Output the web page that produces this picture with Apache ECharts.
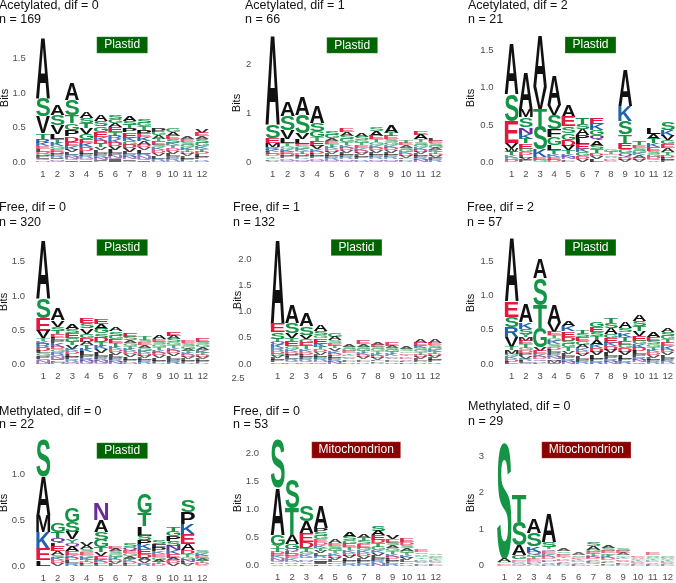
<!DOCTYPE html>
<html><head><meta charset="utf-8">
<script src="https://cdn.jsdelivr.net/npm/echarts@6/dist/echarts.min.js"></script>
<style>html,body{margin:0;padding:0;background:#fff}#c{width:676px;height:583px}</style>
</head><body><div id="c"></div>
<script>
// ---------- DATA ----------
const positions = ['1','2','3','4','5','6','7','8','9','10','11','12'];
const titles = ['Acetylated, dif = 0','Acetylated, dif = 1','Acetylated, dif = 2',
                'Free, dif = 0','Free, dif = 1','Free, dif = 2',
                'Methylated, dif = 0','Free, dif = 0','Methylated, dif = 0'];
const nCounts = [169, 66, 21, 320, 132, 57, 22, 53, 29];
const compartments = ['Plastid','Plastid','Plastid','Plastid','Plastid','Plastid','Plastid','Mitochondrion','Mitochondrion'];
const yTicks = [[0,0.5,1,1.5],[0,1,2],[0,0.5,1,1.5],[0,0.5,1,1.5],[0,0.5,1,1.5,2],[0,0.5,1,1.5],[0,0.5,1],[0,0.5,1,1.5,2],[0,1,2,3]];

// each column: [letters top->bottom, bit heights]
const acet0 = [
 ["ASVTRKELDGPIQN",[.89,.27,.24,.08,.06,.05,.04,.04,.03,.03,.03,.02,.02,.02]],
 ["ASVLTKGEDPRINQ",[.14,.15,.13,.07,.05,.05,.04,.04,.03,.03,.03,.02,.02,.02]],
 ["ASTGPDEKVLRNQI",[.24,.22,.12,.10,.09,.08,.06,.05,.04,.04,.03,.03,.02,.02]],
 ["ASTVGEKDLPRNQI",[.10,.07,.07,.09,.07,.06,.06,.05,.04,.03,.03,.02,.02,.02]],
 ["ASGEKDTVLPRNIF",[.09,.07,.08,.08,.05,.05,.05,.04,.04,.04,.03,.03,.02,.01]],
 ["SGAETRKDVLPNQI",[.06,.06,.06,.07,.05,.05,.05,.05,.05,.05,.04,.03,.03,.03]],
 ["ASTPEKGDVLRNIQ",[.08,.06,.05,.06,.08,.05,.05,.05,.05,.04,.04,.03,.02,.02]],
 ["SGTPEKADVLRNQI",[.06,.05,.05,.06,.05,.06,.05,.04,.04,.05,.04,.03,.03,.02]],
 ["PGATESKDVLRN",[.05,.05,.05,.04,.05,.04,.04,.04,.04,.04,.03,.02]],
 ["GAESKTDVLPRN",[.05,.06,.05,.05,.04,.04,.04,.04,.04,.03,.03,.02]],
 ["AESGKTDVLPR",[.04,.04,.04,.04,.04,.03,.03,.03,.03,.03,.02]],
 ["VEASGKTDLPRN",[.05,.05,.04,.05,.05,.04,.04,.04,.04,.03,.02,.02]]
];
const acet1 = [
 ["ASEMRKLDTGPV",[1.82,.27,.10,.08,.06,.05,.04,.04,.03,.03,.03,.03]],
 ["ASVLTGKEDPRNQ",[.30,.29,.17,.09,.06,.05,.06,.05,.04,.04,.03,.03,.02]],
 ["ASVLEGKTDPRNQ",[.36,.37,.13,.09,.05,.05,.05,.05,.04,.04,.03,.03,.03]],
 ["ASGTEVKDLPRNQ",[.35,.16,.13,.07,.10,.07,.05,.05,.04,.04,.03,.03,.02]],
 ["SGAETKDVLPRNQ",[.08,.08,.06,.06,.05,.05,.05,.04,.04,.04,.04,.03,.02]],
 ["EASGTKDVLPRNQ",[.08,.08,.07,.07,.06,.05,.05,.05,.05,.04,.04,.03,.03]],
 ["ASGTEKDVLPRN",[.08,.07,.06,.05,.06,.05,.05,.04,.04,.04,.03,.03]],
 ["SAETGKDVLPRNQ",[.07,.09,.08,.06,.06,.05,.05,.05,.05,.04,.04,.03,.03]],
 ["ATESGKDVLPRNQ",[.16,.07,.07,.06,.06,.05,.05,.05,.05,.04,.04,.03,.03]],
 ["TEASGKDVLPR",[.06,.05,.05,.04,.04,.04,.04,.04,.03,.03,.03]],
 ["EATSGKDVLPRN",[.08,.10,.06,.05,.05,.05,.05,.04,.04,.04,.04,.04]],
 ["LESGAKTDVPR",[.06,.05,.05,.05,.04,.04,.04,.04,.04,.04,.04]]
];
const acet2 = [
 ["ASEVWTKGD",[.68,.36,.29,.07,.05,.05,.03,.03,.03]],
 ["AMSNKTEGDLVP",[.49,.11,.13,.09,.07,.06,.07,.05,.04,.03,.03,.03]],
 ["AVTSKEG",[.70,.31,.22,.31,.10,.04,.03]],
 ["AVSFGLTKED",[.40,.13,.20,.10,.11,.07,.05,.04,.04,.03]],
 ["AESGDVTKNLP",[.16,.13,.09,.09,.08,.06,.05,.04,.03,.02,.02]],
 ["TSAPLEKGDV",[.08,.07,.08,.06,.06,.06,.05,.05,.04,.04]],
 ["EKGQASTDVL",[.08,.08,.07,.07,.07,.05,.05,.04,.04,.04]],
 ["GTESAKDV",[.03,.03,.02,.02,.02,.02,.02,.01]],
 ["AKSTEGQDV",[.48,.20,.18,.11,.09,.05,.05,.04,.03]],
 ["TESGKADV",[.05,.04,.04,.03,.03,.03,.03,.03]],
 ["LATKESGDQV",[.08,.07,.06,.05,.05,.04,.04,.03,.02,.02]],
 ["SKVGEATDLP",[.10,.08,.06,.05,.05,.05,.04,.04,.03,.03]]
];
const free0 = [
 ["ASEVTKRDLGPQNM",[.85,.29,.18,.11,.04,.04,.05,.05,.04,.04,.04,.03,.03,.02]],
 ["AVSTELPKDGRQNIFMH",[.17,.10,.06,.05,.05,.04,.04,.05,.04,.04,.04,.03,.03,.02,.02,.02,.02]],
 ["ASEGTVKDLPRQN",[.08,.06,.07,.06,.05,.05,.04,.04,.04,.04,.03,.02,.02]],
 ["ESVGDATKLPRNQ",[.08,.07,.08,.06,.06,.05,.05,.05,.05,.04,.04,.03,.02]],
 ["EAGSDTKVLPRNQ",[.08,.07,.07,.06,.07,.05,.05,.05,.05,.04,.03,.03,.02]],
 ["ASGETKDVLPRN",[.06,.06,.05,.06,.05,.04,.04,.04,.04,.04,.03,.03]],
 ["ESAGTKDVLPRN",[.06,.05,.04,.04,.04,.04,.04,.04,.04,.03,.02,.02]],
 ["TSEAGKDVLPR",[.05,.04,.04,.04,.04,.04,.04,.03,.03,.03,.03]],
 ["AESGTKDVLPR",[.06,.04,.04,.04,.04,.04,.04,.04,.04,.03,.02]],
 ["EASGTKDVLPR",[.06,.05,.05,.04,.04,.04,.04,.04,.04,.04,.04]],
 ["ESGATKDVLPR",[.04,.04,.04,.03,.03,.03,.03,.03,.03,.03,.02]],
 ["ESGAKTDVLPR",[.05,.04,.04,.04,.04,.03,.03,.03,.03,.03,.02]]
];
const free1 = [
 ["AESTQKRDGVLPN",[1.62,.16,.13,.06,.06,.06,.05,.05,.05,.04,.04,.04,.03]],
 ["ASVTEGKDPLRQN",[.35,.19,.10,.06,.09,.06,.05,.05,.04,.04,.04,.03,.03]],
 ["ASVGETKDLPRQN",[.25,.16,.08,.07,.07,.06,.05,.05,.04,.04,.04,.03,.03]],
 ["ASGEKTDVLPRNQ",[.12,.08,.06,.10,.06,.05,.05,.05,.04,.04,.04,.03,.03]],
 ["GASETVKDLPRN",[.07,.07,.05,.05,.05,.05,.05,.04,.04,.04,.04,.04]],
 ["ASGETKDVLPR",[.05,.04,.04,.04,.03,.03,.03,.03,.03,.03,.03]],
 ["EASGTKDVLPR",[.06,.05,.04,.04,.04,.04,.04,.04,.03,.03,.03]],
 ["AESGTKDVLPR",[.05,.05,.04,.04,.04,.04,.04,.04,.03,.03,.02]],
 ["EASGTKDVLPR",[.06,.04,.04,.04,.04,.04,.03,.03,.03,.03,.03]],
 ["ASGETKDVLP",[.05,.04,.03,.03,.03,.03,.03,.03,.03,.03]],
 ["AEKSGTDVLPR",[.06,.06,.05,.04,.04,.04,.04,.04,.04,.03,.03]],
 ["AESGKTDVLPR",[.06,.05,.05,.04,.04,.04,.04,.04,.04,.04,.03]]
];
const free2 = [
 ["AESRVTMGKDL",[.92,.22,.15,.15,.14,.05,.05,.04,.04,.04,.03]],
 ["AKSYMETGDPVRLQ",[.27,.10,.07,.05,.05,.05,.05,.04,.04,.04,.04,.03,.03,.02]],
 ["ASTGVEKDQRL",[.29,.39,.34,.28,.05,.05,.04,.03,.03,.02,.02]],
 ["AVETGKSDLPRNQMI",[.27,.12,.05,.04,.04,.05,.04,.04,.04,.04,.03,.03,.03,.03,.01]],
 ["AKEDSGTVLPRN",[.07,.07,.08,.06,.05,.05,.05,.04,.04,.04,.04,.03]],
 ["TSEGAKDVLPR",[.06,.05,.06,.05,.05,.04,.04,.04,.04,.04,.03]],
 ["GESTAKDVLPR",[.08,.07,.06,.06,.07,.05,.05,.05,.05,.04,.04]],
 ["TSAGEKDVLPRN",[.08,.07,.09,.06,.07,.05,.05,.05,.05,.04,.04,.03]],
 ["ASKTEGDVLPR",[.10,.06,.06,.06,.06,.05,.05,.05,.05,.04,.04]],
 ["ASTVEGKDLPRNQ",[.09,.07,.07,.07,.07,.05,.05,.05,.05,.04,.04,.03,.03]],
 ["AESGTKDVLPR",[.07,.06,.05,.04,.04,.04,.04,.04,.03,.03,.03]],
 ["ASGTEKDVLPRN",[.06,.06,.05,.05,.05,.05,.04,.04,.04,.04,.03,.02]]
];
const meth0P = [
 ["SAMKEL",[.40,.42,.18,.18,.13,.06]],
 ["GTQLEASKDV",[.10,.07,.05,.04,.05,.04,.03,.03,.03,.03]],
 ["GSVYQAEKDLR",[.15,.11,.08,.04,.04,.05,.04,.03,.03,.03,.03]],
 ["VASEGKTDL",[.04,.04,.03,.03,.03,.03,.02,.02,.02]],
 ["NASGTVEKDL",[.18,.13,.09,.08,.05,.04,.04,.03,.02,.02]],
 ["EASGTKDVL",[.03,.03,.03,.03,.02,.02,.02,.02,.02]],
 ["SQEGATKDL",[.04,.04,.03,.03,.03,.02,.02,.02,.02]],
 ["GTLSPKEDAVR",[.22,.14,.10,.05,.05,.05,.05,.04,.03,.03,.03]],
 ["SFPKEGATD",[.04,.04,.04,.03,.03,.03,.03,.02,.02]],
 ["TGPSNKEADV",[.06,.05,.05,.05,.05,.04,.04,.03,.03,.03]],
 ["SPKEADTGNLV",[.13,.13,.11,.11,.07,.04,.03,.03,.03,.02,.02]],
 ["SKEGATDV",[.03,.03,.02,.02,.02,.02,.02,.01]]
];
const free0M = [
 ["SAGYTDEKNQRV",[.86,.83,.18,.06,.06,.04,.04,.04,.04,.03,.03,.03]],
 ["STAGQLDEKNRV",[.52,.48,.15,.09,.05,.04,.04,.04,.04,.03,.03,.03]],
 ["SAEDTGKQNRVL",[.28,.21,.15,.12,.06,.05,.04,.04,.03,.03,.03,.03]],
 ["APSGEDKTVLRQNIF",[.40,.07,.07,.06,.05,.05,.05,.05,.05,.04,.04,.04,.03,.04,.03]],
 ["AESGTKDVLPR",[.06,.05,.05,.04,.04,.04,.04,.04,.04,.03,.03]],
 ["ASGETKDVLPR",[.08,.06,.06,.06,.05,.05,.05,.05,.05,.04,.04]],
 ["ATSEGKDVLPR",[.07,.06,.06,.06,.05,.05,.05,.05,.04,.04,.04]],
 ["SAEDTGKVLPRN",[.08,.08,.08,.06,.06,.06,.05,.05,.05,.05,.04,.04]],
 ["VESAGTKDLPR",[.07,.06,.05,.05,.05,.05,.05,.04,.04,.04,.04]],
 ["EDSAGTKVLPR",[.07,.05,.05,.05,.04,.04,.05,.04,.04,.03,.03]],
 ["ESAGTKDVLP",[.04,.03,.03,.03,.03,.03,.03,.02,.02,.02]],
 ["ASEGTKDVLP",[.03,.03,.02,.02,.02,.02,.02,.02,.02,.02]]
];
const meth0M = [
 ["SAGDE",[3.18,.10,.04,.03,.03]],
 ["TSAGEDKVNQ",[.73,.64,.27,.12,.04,.03,.03,.03,.02,.02]],
 ["ASKQGTEDNLVR",[.38,.35,.15,.08,.06,.05,.05,.04,.03,.03,.02,.02]],
 ["ASTQEGKDNLVRP",[.79,.14,.07,.06,.06,.05,.05,.05,.04,.04,.04,.03,.03]],
 ["ASGETKDVLPR",[.07,.05,.05,.05,.04,.04,.04,.04,.04,.02,.02]],
 ["ASGETKDVLP",[.05,.04,.04,.03,.03,.03,.03,.03,.03,.03]],
 ["SAGETKDVLPQR",[.10,.10,.06,.05,.05,.05,.05,.04,.04,.03,.03,.03]],
 ["ASEGTKDVLPR",[.08,.06,.06,.05,.05,.05,.05,.04,.04,.04,.03]],
 ["SEAGTKDVLPR",[.06,.05,.05,.04,.04,.04,.04,.04,.04,.03,.02]],
 ["ESAGTKDVLP",[.04,.03,.03,.03,.03,.03,.03,.03,.02,.02]],
 ["ESAGTKDVLP",[.05,.04,.04,.03,.03,.03,.03,.03,.03,.03]],
 ["SEAGTKDVLP",[.04,.03,.03,.03,.03,.03,.03,.03,.02,.02]]
];
const panelData = [acet0, acet1, acet2, free0, free1, free2, meth0P, free0M, meth0M];

// ---------- LAYOUT / STYLE ----------
const layout = [
 {x1:43,   x12:202,   y0:162,   ppb:69.1, max:2.0, dec:1, lm:10,  tx:-1,  ty:5.5, ny:20,  bx:5,   by:98,  badge:[96.7,36.7,51,16.6]},
 {x1:272.7,x12:435.7, y0:162,   ppb:49.0, max:2.8, dec:0, lm:14,  tx:245, ty:5.5, ny:20,  bx:237, by:103, badge:[326.7,37.3,51,16]},
 {x1:511.7,x12:669,   y0:162,   ppb:74.2, max:1.9, dec:1, lm:11,  tx:468, ty:5.5, ny:20,  bx:471, by:98,  badge:[565,36.7,51,16.6]},
 {x1:43.3, x12:202.7, y0:364.3, ppb:68.4, max:2.0, dec:1, lm:11,  tx:-1,  ty:208, ny:223, bx:4,   by:302, badge:[96.7,239.3,51,16.4]},
 {x1:277.7,x12:435,   y0:364,   ppb:52.3, max:2.6, dec:1, lm:19,  tx:233, ty:208, ny:223, bx:238, by:300, badge:[331,239.3,51,16.4]},
 {x1:511.7,x12:668.3, y0:364,   ppb:68.7, max:2.0, dec:1, lm:11,  tx:467, ty:208, ny:223, bx:471, by:303, badge:[565,239.3,51,16.4]},
 {x1:43.3, x12:202.3, y0:566,   ppb:92.0, max:1.5, dec:1, lm:11,  tx:-1,  ty:412, ny:425, bx:4,   by:503, badge:[96.7,442.7,51,16]},
 {x1:277.7,x12:435.7, y0:565.7, ppb:56.2, max:2.4, dec:1, lm:11.6,tx:233, ty:412, ny:425, bx:238, by:503, badge:[311.7,441.7,89,16.6]},
 {x1:504.3,x12:668.3, y0:565.7, ppb:36.6, max:3.6, dec:0, lm:12.8,tx:468, ty:407, ny:422, bx:471, by:503, badge:[541.7,441.7,89.3,16.6]}
];
const badgeColors = {Plastid:'#006400', Mitochondrion:'#8b0000'};
const letterColor = ch => ('GSTYC'.includes(ch) ? '#149445' :
                           'NQ'.includes(ch) ? '#6a2c9c' :
                           'KRH'.includes(ch) ? '#2062ac' :
                           'DE'.includes(ch) ? '#e3183c' : '#111111');
const FONT = 'bold 100px "Liberation Sans", Arial, sans-serif';
const LABEL_FONT = '"Liberation Sans", Arial, sans-serif';

const mctx = document.createElement('canvas').getContext('2d');
mctx.font = FONT; mctx.textAlign = 'center'; mctx.textBaseline = 'middle';
const mcache = {};
function metric(ch) {
  if (!mcache[ch]) {
    const m = mctx.measureText(ch);
    mcache[ch] = {L: m.actualBoundingBoxLeft, R: m.actualBoundingBoxRight,
                  A: m.actualBoundingBoxAscent, D: m.actualBoundingBoxDescent};
  }
  return mcache[ch];
}

const grids = [], xAxes = [], yAxes = [], series = [], graphics = [];
panelData.forEach((cols, i) => {
  const L = layout[i];
  const band = (L.x12 - L.x1) / 11;
  grids.push({left: L.x1 - band / 2, width: band * 12, top: L.y0 - L.max * L.ppb, height: L.max * L.ppb});
  xAxes.push({type: 'category', gridIndex: i, data: positions, boundaryGap: true,
    axisLine: {show: false}, axisTick: {show: false}, splitLine: {show: false},
    axisLabel: {interval: 0, fontSize: 9.5, color: '#4d4d4d', margin: 7, fontFamily: LABEL_FONT}});
  yAxes.push({type: 'value', gridIndex: i, min: 0, max: L.max,
    axisLine: {show: false}, axisTick: {show: false}, splitLine: {show: false},
    axisLabel: {customValues: yTicks[i], formatter: v => Number(v).toFixed(L.dec),
      fontSize: 9.5, color: '#4d4d4d', margin: L.lm, fontFamily: LABEL_FONT}});
  const items = [], letters = [];
  cols.forEach(([seq, hs], c) => {
    const n = Math.min(seq.length, hs.length);
    let top = 0;
    for (let k = 0; k < n; k++) top += hs[k];
    for (let k = 0; k < n; k++) {
      items.push([c, top - hs[k], top]);
      letters.push(seq[k]);
      top -= hs[k];
    }
  });
  series.push({
    type: 'custom', xAxisIndex: i, yAxisIndex: i, silent: true, clip: false,
    encode: {x: 0, y: [1, 2]}, data: items,
    renderItem: (params, api) => {
      const ch = letters[params.dataIndex];
      const c = api.value(0);
      const pTop = api.coord([c, api.value(2)]);
      const pBot = api.coord([c, api.value(1)]);
      const w = api.size([1, 0])[0] * 0.97;
      const h = pBot[1] - pTop[1];
      if (h <= 0) return null;
      const m = metric(ch);
      const sx = w / (m.L + m.R), sy = h / (m.A + m.D);
      // tiny glyphs render pale (anti-aliased) in the reference
      const op = Math.min(1, 0.3 + h / 6);
      return {type: 'text', x: pTop[0] - w / 2 + m.L * sx, y: pTop[1] + m.A * sy,
        scaleX: sx, scaleY: sy, silent: true,
        style: {text: ch, font: FONT, fill: letterColor(ch), opacity: op, align: 'center', verticalAlign: 'middle'}};
    }
  });
  // titles
  graphics.push({type: 'text', x: L.tx, y: L.ty, silent: true,
    style: {text: titles[i], font: '12.5px ' + LABEL_FONT, fill: '#111', align: 'left', verticalAlign: 'middle'}});
  graphics.push({type: 'text', x: L.tx, y: L.ny, silent: true,
    style: {text: 'n = ' + nCounts[i], font: '12.5px ' + LABEL_FONT, fill: '#111', align: 'left', verticalAlign: 'middle'}});
  // axis title
  graphics.push({type: 'text', x: L.bx, y: L.by, rotation: Math.PI / 2, silent: true,
    style: {text: 'Bits', font: '11px ' + LABEL_FONT, fill: '#111', align: 'center', verticalAlign: 'middle'}});
  // compartment badge
  const b = L.badge;
  graphics.push({type: 'rect', x: b[0], y: b[1], silent: true, shape: {width: b[2], height: b[3]},
    style: {fill: badgeColors[compartments[i]], stroke: 'rgba(255,255,255,0.6)', lineWidth: 0.5}});
  graphics.push({type: 'text', x: b[0] + b[2] / 2, y: b[1] + b[3] / 2, silent: true,
    style: {text: compartments[i], font: '12px ' + LABEL_FONT, fill: '#fff', align: 'center', verticalAlign: 'middle'}});
});
// stray tick label present in the reference (panel "Free, dif = 1")
graphics.push({type: 'text', x: 238, y: 378, silent: true,
  style: {text: '2.5', font: '9.5px ' + LABEL_FONT, fill: '#4d4d4d', align: 'center', verticalAlign: 'middle'}});

const chart = echarts.init(document.getElementById('c'), null, {renderer: 'canvas'});
chart.setOption({
  animation: false,
  backgroundColor: '#fff',
  grid: grids, xAxis: xAxes, yAxis: yAxes, series: series,
  graphic: {elements: graphics}
});
</script>
</body></html>
